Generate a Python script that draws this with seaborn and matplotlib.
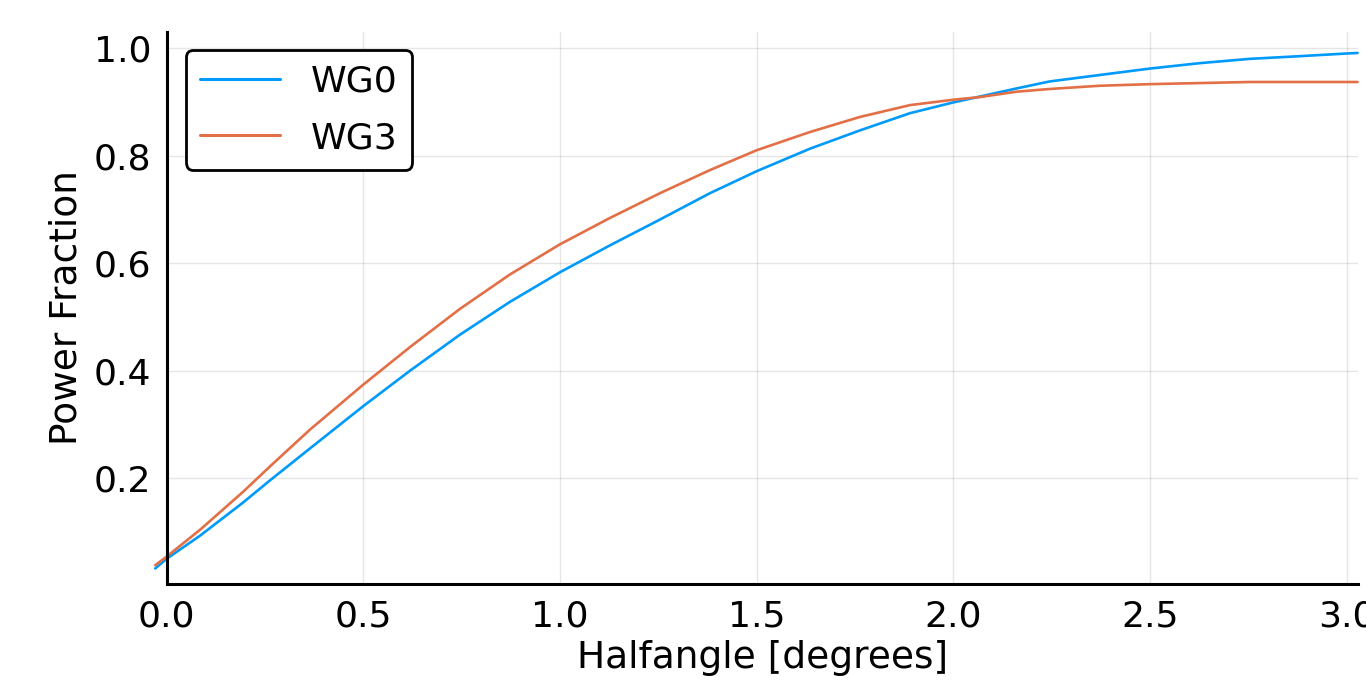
import matplotlib
matplotlib.use("Agg")
import matplotlib.pyplot as plt
import seaborn as sns
import pandas as pd

# ---- data ----
halfangle = [-0.029, 0.0, 0.085, 0.195, 0.263, 0.364, 0.5, 0.619, 0.746, 0.873,
             1.0, 1.127, 1.254, 1.381, 1.5, 1.636, 1.763, 1.89, 2.0, 2.068,
             2.161, 2.245, 2.372, 2.5, 2.626, 2.753, 2.88, 3.0, 3.028]
wg0 = [0.032, 0.050, 0.093, 0.155, 0.196, 0.255, 0.334, 0.400, 0.467, 0.528,
       0.583, 0.633, 0.681, 0.730, 0.771, 0.813, 0.847, 0.879, 0.899, 0.910,
       0.925, 0.938, 0.950, 0.962, 0.972, 0.980, 0.985, 0.990, 0.991]
wg3 = [0.038, 0.054, 0.104, 0.175, 0.222, 0.290, 0.374, 0.444, 0.515, 0.579,
       0.635, 0.684, 0.730, 0.773, 0.810, 0.844, 0.872, 0.894, 0.904, 0.909,
       0.919, 0.924, 0.930, 0.933, 0.935, 0.937, 0.937, 0.937, 0.937]
series_names = ["WG0", "WG3"]
colors = ["#009AFA", "#E36F47"]
x_ticks = [0.0, 0.5, 1.0, 1.5, 2.0, 2.5, 3.0]
y_ticks = [0.2, 0.4, 0.6, 0.8, 1.0]

df = pd.concat([
    pd.DataFrame({"x": halfangle, "y": wg0, "series": series_names[0]}),
    pd.DataFrame({"x": halfangle, "y": wg3, "series": series_names[1]}),
])

sns.set_style("white")
plt.rcParams["font.family"] = ["DejaVu Sans"]
plt.rcParams["text.color"] = "black"
plt.rcParams["axes.labelcolor"] = "black"

fig = plt.figure(figsize=(13.66, 6.81), dpi=100)
ax = fig.add_axes([0.1220, 0.1424, 0.8724, 0.8106])

sns.lineplot(data=df, x="x", y="y", hue="series", palette=colors,
             linewidth=1.9, ax=ax, sort=False, estimator=None)
for ln in ax.get_lines():
    ln.set_clip_on(False)
    ln.set_solid_joinstyle("round")

ax.set_xlim(0.0, 3.03)
ax.set_ylim(0.003, 1.03)
ax.set_xticks(x_ticks)
ax.set_yticks(y_ticks)
ax.set_xticklabels([f"{t:.1f}" for t in x_ticks])
ax.set_yticklabels([f"{t:.1f}" for t in y_ticks])
ax.grid(True, color="black", alpha=0.1, linewidth=1.0)
ax.set_axisbelow(True)

for side in ["top", "right"]:
    ax.spines[side].set_visible(False)
for side in ["left", "bottom"]:
    ax.spines[side].set_color("black")
    ax.spines[side].set_linewidth(2.2)

ax.tick_params(axis="both", direction="in", length=9, width=2.0,
               labelsize=26, colors="black", pad=11)
ax.set_xlabel("Halfangle [degrees]", fontsize=27, labelpad=5, color="black")
ax.set_ylabel("Power Fraction", fontsize=27, labelpad=7, color="black")

leg = ax.legend(loc="upper left", fontsize=26, frameon=True, fancybox=True,
                handlelength=2.2, handletextpad=0.85, borderpad=0.4,
                labelspacing=0.62, borderaxespad=0.0,
                bbox_to_anchor=(0.0162, 0.967))
leg.get_frame().set_edgecolor("black")
leg.get_frame().set_linewidth(2.0)
leg.get_frame().set_alpha(1.0)
for t in leg.get_texts():
    t.set_color("black")
for h in leg.get_lines():
    h.set_linewidth(2.2)

fig.savefig("out.png", dpi=100)
